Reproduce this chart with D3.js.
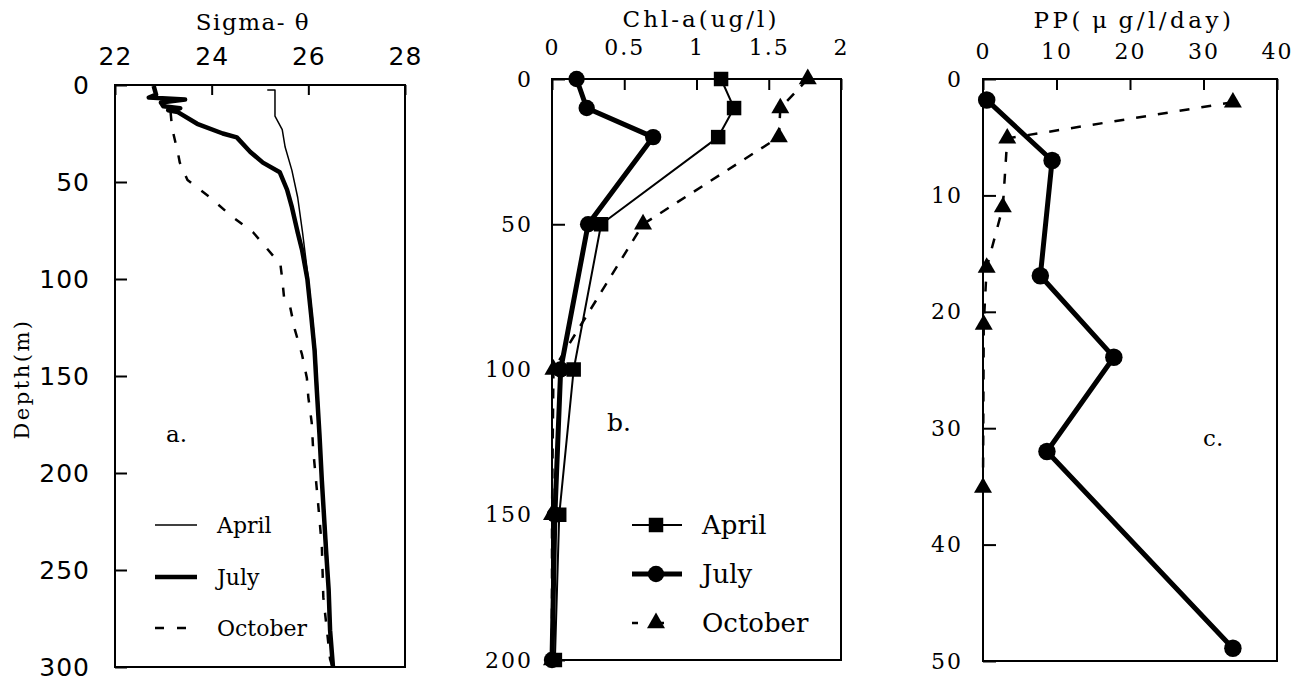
<!DOCTYPE html>
<html>
<head>
<meta charset="utf-8">
<script src="https://cdn.jsdelivr.net/npm/d3@7"></script>
<style>
body { margin: 0; background: #fff; }
svg { display: block; }
</style>
</head>
<body>
<div id="chart"></div>
<script>
// ---- a. Sigma-theta profiles
var sigmaTicks = [22, 24, 26, 28]
var sigmaDepthTicks = [0, 50, 100, 150, 200, 250, 300]

var aprilSigmaDepth = [2.6, 2.6, 16, 23, 32, 44, 58, 76, 90, 100, 119, 137, 155, 204, 241, 281, 300]
var aprilSigma = [25.15, 25.31, 25.31, 25.46, 25.52, 25.66, 25.78, 25.88, 25.95, 26.0, 26.08, 26.15, 26.19, 26.29, 26.39, 26.46, 26.52]

var julySigmaDepth = [0.5, 5, 6.5, 7.5, 9, 11, 12, 13, 14, 20, 25, 27, 34.5, 40, 45, 54, 63, 76, 85, 100, 119, 137, 155, 180, 204, 241, 260, 281, 300]
var julySigma = [22.8, 22.85, 22.7, 23.45, 22.95, 23.0, 23.35, 23.1, 23.3, 23.7, 24.23, 24.52, 24.8, 25.06, 25.41, 25.56, 25.66, 25.78, 25.87, 25.98, 26.06, 26.13, 26.17, 26.23, 26.28, 26.37, 26.42, 26.45, 26.51]

var octSigmaDepth = [14, 22, 36, 40, 49, 58, 67, 76, 88, 92, 100, 110, 114, 126, 139, 151, 161, 174, 188, 215, 238, 264, 296, 300]
var octSigma = [23.15, 23.18, 23.31, 23.34, 23.5, 23.97, 24.38, 24.86, 25.27, 25.42, 25.46, 25.5, 25.62, 25.72, 25.87, 25.97, 26.0, 26.07, 26.1, 26.2, 26.28, 26.31, 26.45, 26.5]

// ---- b. Chl-a profiles
var chlTicks = [0, 0.5, 1, 1.5, 2]
var chlDepthTicks = [0, 50, 100, 150, 200]
var chlDepth = [0, 10, 20, 50, 100, 150, 200]
var aprilChl = [1.17, 1.26, 1.15, 0.34, 0.15, 0.05, 0.02]
var julyChl = [0.17, 0.24, 0.70, 0.25, 0.06, 0.02, 0.0]
var octChl = [1.77, 1.58, 1.57, 0.63, 0.01, 0.0, 0.0]

// ---- c. PP profiles
var ppTicks = [0, 10, 20, 30, 40]
var ppDepthTicks = [0, 10, 20, 30, 40, 50]
var julyPPDepth = [1.8, 7, 16.9, 23.9, 32, 48.9]
var julyPP = [0.5, 9.4, 7.8, 17.8, 8.7, 34]
var octPPDepth = [2, 5.1, 11, 16.2, 21.1, 35.1]
var octPP = [34, 3.3, 2.7, 0.5, 0.1, 0.0]

var seasons = ["April", "July", "October"]

var width = 1301
var height = 679
var serif = "'DejaVu Serif', serif"
var sans = "'DejaVu Sans', sans-serif"

var svg = d3.select("#chart")
    .append("svg")
    .attr("width", width)
    .attr("height", height)

/**
 * Zip two arrays into [x, depth] pairs
 */
function pairs(xs, depths) {
    return xs.map(function(v, i) { return [v, depths[i]] })
}

/**
 * Build one panel: frame, inward ticks and labels
 */
function makePanel(opt) {
    var x = d3.scaleLinear().domain(opt.xDomain).range([opt.left, opt.right])
    var y = d3.scaleLinear().domain(opt.yDomain).range([opt.top, opt.bottom])
    var g = svg.append("g")

    var xAxis = g.append("g")
        .attr("transform", "translate(0," + opt.top + ")")
        .call(d3.axisTop(x).tickValues(opt.xTicks).tickSize(-opt.xTickLen)
              .tickPadding(opt.xPad).tickFormat(d3.format("~g")))
    var yAxis = g.append("g")
        .attr("transform", "translate(" + opt.left + ",0)")
        .call(d3.axisLeft(y).tickValues(opt.yTicks).tickSize(-opt.yTickLen)
              .tickPadding(opt.yPad).tickFormat(d3.format("~g")))

    ;[xAxis, yAxis].forEach(function(a) {
        a.select(".domain").remove()
        a.selectAll(".tick line").attr("stroke", "#000").attr("stroke-width", 2)
        a.selectAll(".tick text")
            .attr("fill", "#000")
            .style("font-family", opt.tickFont)
            .style("font-size", opt.tickSize + "px")
            .style("letter-spacing", opt.tickSpacing + "px")
    })

    g.append("rect")
        .attr("x", opt.left).attr("y", opt.top)
        .attr("width", opt.right - opt.left).attr("height", opt.bottom - opt.top)
        .attr("fill", "none").attr("stroke", "#000").attr("stroke-width", 2)

    g.append("text")
        .attr("x", opt.titleX).attr("y", opt.titleY)
        .attr("text-anchor", "middle")
        .style("font-family", serif)
        .style("font-size", opt.titleSize + "px")
        .style("letter-spacing", opt.titleSpacing + "px")
        .text(opt.title)

    g.append("text")
        .attr("x", opt.tagX).attr("y", opt.tagY)
        .style("font-family", serif)
        .style("font-size", opt.tagSize + "px")
        .text(opt.tag)

    return {g: g, x: x, y: y}
}

/**
 * Draw a profile line (x value vs depth)
 */
function drawLine(p, data, style) {
    p.g.append("path")
        .datum(data)
        .attr("fill", "none")
        .attr("stroke", "#000")
        .attr("stroke-width", style.width)
        .attr("stroke-dasharray", style.dash || null)
        .attr("stroke-linejoin", "round")
        .attr("d", d3.line()
            .x(function(d) { return p.x(d[0]) })
            .y(function(d) { return p.y(d[1]) }))
}

function drawMarkers(p, data, symbol, size) {
    p.g.selectAll(null)
        .data(data)
        .enter()
        .append("path")
        .attr("transform", function(d) { return "translate(" + p.x(d[0]) + "," + p.y(d[1]) + ")" })
        .attr("d", d3.symbol().type(symbol).size(size))
        .attr("fill", "#000")
}

// ---- panel a
var pa = makePanel({
    left: 115, right: 405, top: 85, bottom: 667,
    xDomain: [22, 28], yDomain: [0, 300], xTicks: sigmaTicks, yTicks: sigmaDepthTicks,
    xTickLen: 10, yTickLen: 12, xPad: 20, yPad: 25,
    tickFont: sans, tickSize: 25, tickSpacing: 1,
    title: "Sigma-\u00a0\u03b8", titleX: 253, titleY: 30, titleSize: 23, titleSpacing: 1.5,
    tag: "a.", tagX: 166, tagY: 442, tagSize: 23
})
drawLine(pa, pairs(aprilSigma, aprilSigmaDepth), {width: 1.5})
drawLine(pa, pairs(octSigma, octSigmaDepth), {width: 2.5, dash: "9,13"})
drawLine(pa, pairs(julySigma, julySigmaDepth), {width: 4.5})

svg.append("text")
    .attr("transform", "translate(29,379) rotate(-90)")
    .attr("text-anchor", "middle")
    .style("font-family", serif)
    .style("font-size", "21px")
    .style("letter-spacing", "2.5px")
    .text("Depth(m)")

var legendA = [{w: 1.5, dash: null, y: 525}, {w: 4.5, dash: null, y: 577}, {w: 2.5, dash: "9,13", y: 628}]
legendA.forEach(function(l, i) {
    svg.append("line")
        .attr("x1", 155).attr("x2", 197).attr("y1", l.y).attr("y2", l.y)
        .attr("stroke", "#000").attr("stroke-width", l.w)
        .attr("stroke-dasharray", l.dash)
    svg.append("text")
        .attr("x", 217).attr("y", l.y + 8)
        .style("font-family", serif).style("font-size", "22px")
        .text(seasons[i])
})

// ---- panel b
var pb = makePanel({
    left: 552, right: 841, top: 79, bottom: 660,
    xDomain: [0, 2], yDomain: [0, 200], xTicks: chlTicks, yTicks: chlDepthTicks,
    xTickLen: 11, yTickLen: 13, xPad: 24, yPad: 19,
    tickFont: serif, tickSize: 22, tickSpacing: 2,
    title: "Chl-a(ug/l)", titleX: 701, titleY: 27, titleSize: 23, titleSpacing: 3,
    tag: "b.", tagX: 607, tagY: 431, tagSize: 25
})
drawLine(pb, pairs(octChl, chlDepth), {width: 2.5, dash: "10,10"})
drawLine(pb, pairs(aprilChl, chlDepth), {width: 2})
drawLine(pb, pairs(julyChl, chlDepth), {width: 5})
drawMarkers(pb, pairs(octChl, chlDepth), d3.symbolTriangle, 140)
drawMarkers(pb, pairs(aprilChl, chlDepth), d3.symbolSquare, 210)
drawMarkers(pb, pairs(julyChl, chlDepth), d3.symbolCircle, 210)

var legendB = [
    {w: 2, dash: null, sym: d3.symbolSquare, size: 210, y: 525},
    {w: 5, dash: null, sym: d3.symbolCircle, size: 210, y: 574},
    {w: 2.5, dash: "6,20", sym: d3.symbolTriangle, size: 140, y: 623}
]
legendB.forEach(function(l, i) {
    svg.append("line")
        .attr("x1", 632).attr("x2", 682).attr("y1", l.y).attr("y2", l.y)
        .attr("stroke", "#000").attr("stroke-width", l.w)
        .attr("stroke-dasharray", l.dash)
    svg.append("path")
        .attr("transform", "translate(656," + l.y + ")")
        .attr("d", d3.symbol().type(l.sym).size(l.size))
    svg.append("text")
        .attr("x", 702).attr("y", l.y + 9)
        .style("font-family", serif).style("font-size", "26px")
        .text(seasons[i])
})

// ---- panel c
var pc = makePanel({
    left: 983, right: 1277, top: 79, bottom: 661,
    xDomain: [0, 40], yDomain: [0, 50], xTicks: ppTicks, yTicks: ppDepthTicks,
    xTickLen: 11, yTickLen: 13, xPad: 20, yPad: 20,
    tickFont: serif, tickSize: 22, tickSpacing: 2,
    title: "PP(\u2009\u03bc\u2009g/l/day)", titleX: 1134, titleY: 28, titleSize: 23, titleSpacing: 3.5,
    tag: "c.", tagX: 1203, tagY: 446, tagSize: 23
})
drawLine(pc, pairs(octPP, octPPDepth), {width: 2.5, dash: "10,12"})
drawLine(pc, pairs(julyPP, julyPPDepth), {width: 5})
drawMarkers(pc, pairs(octPP, octPPDepth), d3.symbolTriangle, 140)
drawMarkers(pc, pairs(julyPP, julyPPDepth), d3.symbolCircle, 240)
</script>
</body>
</html>
